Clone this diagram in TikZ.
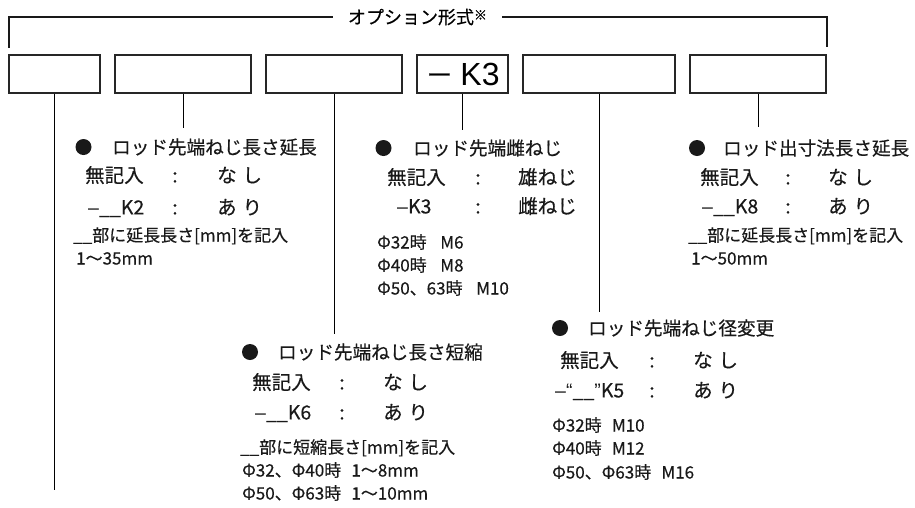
\documentclass[tikz,border=0pt]{standalone}
\usepackage{fontspec}
\setmainfont[FakeBold=0.4]{Noto Sans CJK JP}
\newfontfamily\lat{Liberation Sans}
\begin{document}
\begin{tikzpicture}[x=1pt,y=-1pt,
  optbox/.style={draw=black!85, line width=1.2pt, minimum width=#1, minimum height=38pt, inner sep=0pt},
  tx/.style={inner sep=0pt, anchor=west, text=black!90},
  ttl/.style={tx, font=\fontsize{18.6}{20}\selectfont, text height=16.4pt, text depth=2.2pt},
  rw/.style={tx, font=\fontsize{19.5}{21}\selectfont, text height=17.2pt, text depth=2.3pt},
  cl/.style={rw, anchor=center},
  nt/.style={tx, font=\fontsize{17}{19}\selectfont, text height=15pt, text depth=2pt},
  bul/.style={circle, fill=black!90, minimum size=16pt, inner sep=0pt},
  lk/.style={line width=0.8pt, black},
  brk/.style={line width=2.2pt, black!90, line join=miter}
]
\useasboundingbox (0,0) rectangle (915,507);
% top label and bracket
\node[inner sep=0pt, minimum width=169pt, font=\fontsize{18}{20}\selectfont, text height=15.8pt, text depth=2.2pt] (opt) at (417.5,17)
  {オプション形式\raisebox{4pt}{\fontsize{13}{13}\selectfont ※}};
\coordinate (cL) at (9,17);
\coordinate (cLb) at (9,48);
\coordinate (cR) at (827,17);
\coordinate (cRb) at (827,47);
\draw[brk] (opt.west) -- (cL) -- (cLb);
\draw[brk] (opt.east) -- (cR) -- (cRb);
% boxes
\node[optbox=91pt] (b1) at (54.5,74) {};
\node[optbox=136pt] (b2) at (183,74) {};
\node[optbox=136pt] (b3) at (334,74) {};
\node[optbox=91pt, text height=22pt, text depth=0pt] (b4) at (462.5,74)
  {{\fontsize{28}{28}\selectfont －}\hspace{7pt}{\lat\fontsize{32}{32}\selectfont K3}};
\node[optbox=152pt] (b5) at (599,74) {};
\node[optbox=136pt] (b6) at (758,74) {};
% connector ends
\coordinate (e1) at (54.5,490);
\coordinate (e2) at (183,128);
\coordinate (e3) at (334,334);
\coordinate (e4) at (462.5,130);
\coordinate (e5) at (599,312);
\coordinate (e6) at (758,127);
\draw[lk] (b1.south) -- (e1);
\draw[lk] (b2.south) -- (e2);
\draw[lk] (b3.south) -- (e3);
\draw[lk] (b4.south) -- (e4);
\draw[lk] (b5.south) -- (e5);
\draw[lk] (b6.south) -- (e6);
% block 1
\node[bul] (d1) at (83.5,147) {};
\node[ttl] (t1) at (112,147) {ロッド先端ねじ長さ延長};
\node[rw] (a1a) at (85,175) {無記入};
\node[cl] (c1a) at (175,175) {:};
\node[rw] (v1a) at (217,175) {な\hspace{.3em}し};
\node[rw] (a1b) at (88,207) {{\lat –}\_\_K2};
\node[cl] (c1b) at (175,207) {:};
\node[rw] (v1b) at (217,207) {あ\hspace{.3em}り};
\node[nt] (n1a) at (73,235) {\_\_部に延長長さ[mm]を記入};
\node[nt] (n1b) at (76,258) {1～35mm};
% block 2
\node[bul] (d2) at (383.5,148) {};
\node[ttl] (t2) at (413,148) {ロッド先端雌ねじ};
\node[rw] (a2a) at (387,177) {無記入};
\node[cl] (c2a) at (478,177) {:};
\node[rw] (v2a) at (518,177) {雄ねじ};
\node[rw] (a2b) at (397,206) {{\lat –}K3};
\node[cl] (c2b) at (478,206) {:};
\node[rw] (v2b) at (518,206) {雌ねじ};
\node[nt] (n2a) at (377,242) {Φ32時\hspace{.8em}M6};
\node[nt] (n2b) at (377,265) {Φ40時\hspace{.8em}M8};
\node[nt] (n2c) at (377,288) {Φ50、63時\hspace{.8em}M10};
% block 3
\node[bul] (d3) at (697,148) {};
\node[ttl] (t3) at (723,148) {ロッド出寸法長さ延長};
\node[rw] (a3a) at (700,177) {無記入};
\node[cl] (c3a) at (788,177) {:};
\node[rw] (v3a) at (828,177) {な\hspace{.3em}し};
\node[rw] (a3b) at (702,206) {{\lat –}\_\_K8};
\node[cl] (c3b) at (788,206) {:};
\node[rw] (v3b) at (828,206) {あ\hspace{.3em}り};
\node[nt] (n3a) at (688,235) {\_\_部に延長長さ[mm]を記入};
\node[nt] (n3b) at (691,258) {1～50mm};
% block 4
\node[bul] (d4) at (250,352) {};
\node[ttl] (t4) at (278,352) {ロッド先端ねじ長さ短縮};
\node[rw] (a4a) at (252,382) {無記入};
\node[cl] (c4a) at (342,382) {:};
\node[rw] (v4a) at (383,382) {な\hspace{.3em}し};
\node[rw] (a4b) at (255,412) {{\lat –}\_\_K6};
\node[cl] (c4b) at (342,412) {:};
\node[rw] (v4b) at (383,412) {あ\hspace{.3em}り};
\node[nt] (n4a) at (240,447) {\_\_部に短縮長さ[mm]を記入};
\node[nt] (n4b) at (242,470) {Φ32、Φ40時\hspace{.6em}1～8mm};
\node[nt] (n4c) at (242,493) {Φ50、Φ63時\hspace{.6em}1～10mm};
% block 5
\node[bul] (d5) at (560,328) {};
\node[ttl] (t5) at (588,328) {ロッド先端ねじ径変更};
\node[rw] (a5a) at (560,360) {無記入};
\node[cl] (c5a) at (652,360) {:};
\node[rw] (v5a) at (693,360) {な\hspace{.3em}し};
\node[rw] (a5b) at (555,390) {{\lat –“}\_\_{\lat ”}K5};
\node[cl] (c5b) at (652,390) {:};
\node[rw] (v5b) at (693,390) {あ\hspace{.3em}り};
\node[nt] (n5a) at (552,425) {Φ32時\hspace{.6em}M10};
\node[nt] (n5b) at (552,448) {Φ40時\hspace{.6em}M12};
\node[nt] (n5c) at (552,472) {Φ50、Φ63時\hspace{.6em}M16};
\end{tikzpicture}
\end{document}
